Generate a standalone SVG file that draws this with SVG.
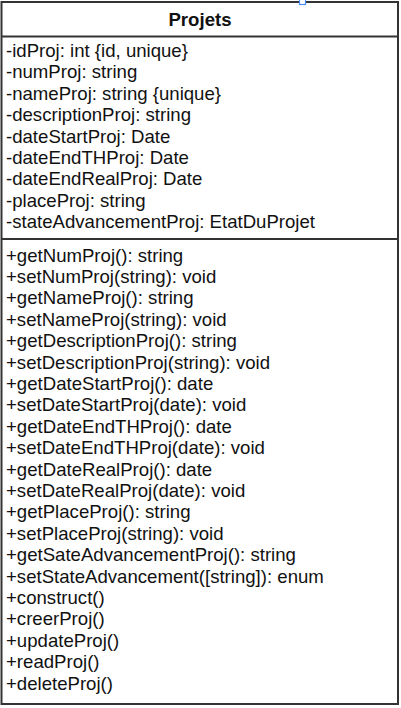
<svg xmlns="http://www.w3.org/2000/svg" width="401" height="708" viewBox="0 0 401 708">
<style>
.box{fill:#ffffff;stroke:#333333;stroke-width:2}
.sep{stroke:#333333;stroke-width:2}
.t{font-family:"Liberation Sans",Arial,Helvetica,sans-serif;font-size:18.6px;fill:#111111}
.h{font-family:"Liberation Sans",Arial,Helvetica,sans-serif;font-size:18.6px;font-weight:bold;fill:#111111}
</style>
<rect width="401" height="708" fill="#ffffff"/>
<g id="Projets">
<rect class="box" x="1.5" y="2" width="396.5" height="702"/>
<line class="sep" x1="1.5" y1="36.5" x2="398" y2="36.5"/>
<line class="sep" x1="1.5" y1="239" x2="398" y2="239"/>
<text class="h" x="200" y="25.5" text-anchor="middle">Projets</text>
<g class="t">
<text x="6" y="57">-idProj: int {id, unique}</text>
<text x="6" y="78.4">-numProj: string</text>
<text x="6" y="99.8">-nameProj: string {unique}</text>
<text x="6" y="121.2">-descriptionProj: string</text>
<text x="6" y="142.6">-dateStartProj: Date</text>
<text x="6" y="164">-dateEndTHProj: Date</text>
<text x="6" y="185.4">-dateEndRealProj: Date</text>
<text x="6" y="206.8">-placeProj: string</text>
<text x="6" y="228.2">-stateAdvancementProj: EtatDuProjet</text>
<text x="6" y="261.5">+getNumProj(): string</text>
<text x="6" y="282.9">+setNumProj(string): void</text>
<text x="6" y="304.3">+getNameProj(): string</text>
<text x="6" y="325.7">+setNameProj(string): void</text>
<text x="6" y="347.1">+getDescriptionProj(): string</text>
<text x="6" y="368.5">+setDescriptionProj(string): void</text>
<text x="6" y="389.9">+getDateStartProj(): date</text>
<text x="6" y="411.3">+setDateStartProj(date): void</text>
<text x="6" y="432.7">+getDateEndTHProj(): date</text>
<text x="6" y="454.1">+setDateEndTHProj(date): void</text>
<text x="6" y="475.5">+getDateRealProj(): date</text>
<text x="6" y="496.9">+setDateRealProj(date): void</text>
<text x="6" y="518.3">+getPlaceProj(): string</text>
<text x="6" y="539.7">+setPlaceProj(string): void</text>
<text x="6" y="561.1">+getSateAdvancementProj(): string</text>
<text x="6" y="582.5">+setStateAdvancement([string]): enum</text>
<text x="6" y="603.9">+construct()</text>
<text x="6" y="625.3">+creerProj()</text>
<text x="6" y="646.7">+updateProj()</text>
<text x="6" y="668.1">+readProj()</text>
<text x="6" y="689.5">+deleteProj()</text>
</g>
</g>
<rect x="299.5" y="-1" width="6" height="5.5" fill="#ffffff" stroke="#4d8dfa" stroke-width="1.2"/>
</svg>
